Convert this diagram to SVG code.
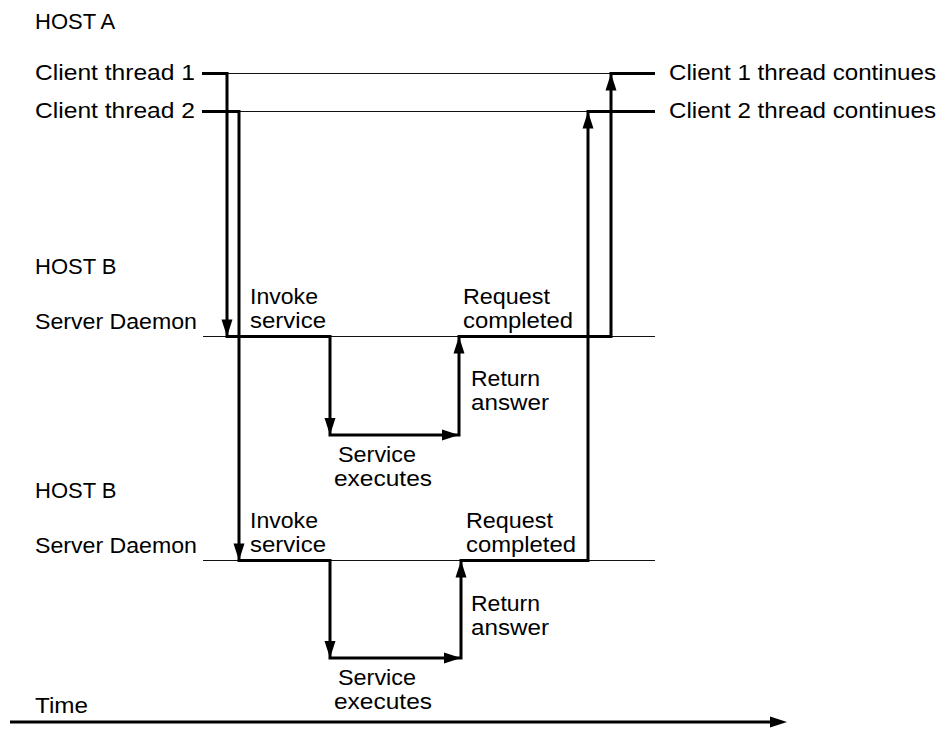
<svg xmlns="http://www.w3.org/2000/svg" xmlns:xlink="http://www.w3.org/1999/xlink" width="950" height="730" viewBox="0 0 950 730">
<style>
text{font-family:"Liberation Sans",Arial,sans-serif;font-size:22px;fill:#000}
.thin{stroke:#111;stroke-width:1;fill:none}
.thick{stroke:#000;stroke-width:3;fill:none;stroke-linejoin:miter}
</style>
<defs>
<path id="ah" d="M0,0 L-17,-5.5 L-17,5.5 Z" fill="#000"/>
</defs>
<rect width="950" height="730" fill="#fff"/>
<g id="timelines">
<line class="thin" x1="228" y1="73.5" x2="612" y2="73.5"/>
<line class="thin" x1="240" y1="111.5" x2="588" y2="111.5"/>
<line class="thin" x1="203" y1="336.5" x2="655" y2="336.5"/>
<line class="thin" x1="203" y1="560.5" x2="655" y2="560.5"/>
</g>
<g id="connectors">
<path class="thick" d="M202,73.5 H227 V336.5 H330 V435 H459 V336.5 H611 V73.5 H655"/>
<path class="thick" d="M202,111.5 H239 V560.5 H330 V658 H461 V560.5 H588 V111.5 H655"/>
<line class="thick" x1="10" y1="722" x2="775" y2="722"/>
<use xlink:href="#ah" transform="translate(227,336.5) rotate(90)"/>
<use xlink:href="#ah" transform="translate(330,435) rotate(90)"/>
<use xlink:href="#ah" transform="translate(459,435)"/>
<use xlink:href="#ah" transform="translate(459,336.5) rotate(-90)"/>
<use xlink:href="#ah" transform="translate(611,73.5) rotate(-90)"/>
<use xlink:href="#ah" transform="translate(239,560.5) rotate(90)"/>
<use xlink:href="#ah" transform="translate(330,658) rotate(90)"/>
<use xlink:href="#ah" transform="translate(461,658)"/>
<use xlink:href="#ah" transform="translate(461,560.5) rotate(-90)"/>
<use xlink:href="#ah" transform="translate(588,111.5) rotate(-90)"/>
<use xlink:href="#ah" transform="translate(787,722)"/>
</g>
<g id="hostA">
<text x="35" y="29">HOST A</text>
<text x="35" y="80" textLength="160" lengthAdjust="spacingAndGlyphs">Client thread 1</text>
<text x="35" y="118" textLength="160" lengthAdjust="spacingAndGlyphs">Client thread 2</text>
<text x="669" y="80" textLength="267" lengthAdjust="spacingAndGlyphs">Client 1 thread continues</text>
<text x="669" y="118" textLength="267" lengthAdjust="spacingAndGlyphs">Client 2 thread continues</text>
</g>
<g id="hostB1">
<text x="35" y="274">HOST B</text>
<text x="35" y="329" textLength="162" lengthAdjust="spacingAndGlyphs">Server Daemon</text>
<text x="250" y="304" textLength="68" lengthAdjust="spacingAndGlyphs">Invoke</text>
<text x="250" y="328" textLength="76" lengthAdjust="spacingAndGlyphs">service</text>
<text x="463" y="304" textLength="87" lengthAdjust="spacingAndGlyphs">Request</text>
<text x="463" y="328" textLength="110" lengthAdjust="spacingAndGlyphs">completed</text>
<text x="471" y="386" textLength="69" lengthAdjust="spacingAndGlyphs">Return</text>
<text x="471" y="410" textLength="78" lengthAdjust="spacingAndGlyphs">answer</text>
<text x="338" y="462" textLength="78" lengthAdjust="spacingAndGlyphs">Service</text>
<text x="334" y="486" textLength="98" lengthAdjust="spacingAndGlyphs">executes</text>
</g>
<g id="hostB2">
<text x="35" y="498">HOST B</text>
<text x="35" y="553" textLength="162" lengthAdjust="spacingAndGlyphs">Server Daemon</text>
<text x="250" y="528" textLength="68" lengthAdjust="spacingAndGlyphs">Invoke</text>
<text x="250" y="552" textLength="76" lengthAdjust="spacingAndGlyphs">service</text>
<text x="466" y="528" textLength="87" lengthAdjust="spacingAndGlyphs">Request</text>
<text x="466" y="552" textLength="110" lengthAdjust="spacingAndGlyphs">completed</text>
<text x="471" y="611" textLength="69" lengthAdjust="spacingAndGlyphs">Return</text>
<text x="471" y="635" textLength="78" lengthAdjust="spacingAndGlyphs">answer</text>
<text x="338" y="685" textLength="78" lengthAdjust="spacingAndGlyphs">Service</text>
<text x="334" y="709" textLength="98" lengthAdjust="spacingAndGlyphs">executes</text>
</g>
<g id="time">
<text x="35" y="713" textLength="53" lengthAdjust="spacingAndGlyphs">Time</text>
</g>
</svg>
